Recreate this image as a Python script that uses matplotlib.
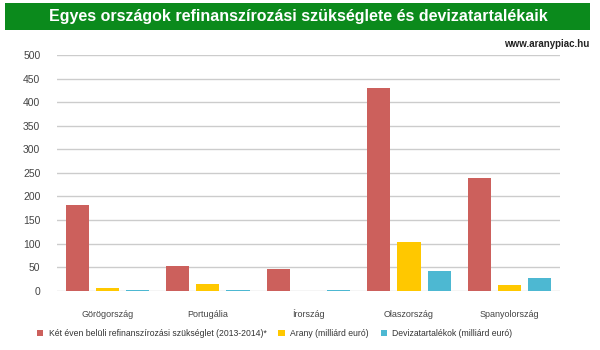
import numpy as np
import matplotlib
matplotlib.use('Agg')
import matplotlib.pyplot as plt
from matplotlib.patches import Rectangle

plt.rcParams['font.family'] = ['Liberation Sans', 'DejaVu Sans']

countries = ['Görögország', 'Portugália', 'Írország', 'Olaszország', 'Spanyolország']
refin = [181, 52, 46, 431, 239]
arany = [5, 15, 0, 104, 12]
deviza = [1, 1, 1, 42, 28]
series = [
    ('Két éven belüli refinanszírozási szükséglet (2013-2014)*', refin, '#cc605c'),
    ('Arany (milliárd euró)', arany, '#ffc800'),
    ('Devizatartalékok (milliárd euró)', deviza, '#4db8d2'),
]
yticks = [0, 50, 100, 150, 200, 250, 300, 350, 400, 450, 500]

fig = plt.figure(figsize=(6, 3.5), dpi=100)
ax = fig.add_axes([0.095, 0.169, 0.838, 0.674])

# title banner
fig.patches.append(Rectangle((0.008, 0.915), 0.975, 0.077, transform=fig.transFigure,
                             facecolor='#0b8a1c', edgecolor='none'))
fig.text(0.497, 0.953, 'Egyes országok refinanszírozási szükséglete és devizatartalékaik',
         color='white', fontsize=11.5, fontweight='bold', ha='center', va='center')
fig.text(0.983, 0.873, 'www.aranypiac.hu', fontsize=7, fontweight='bold',
         ha='right', va='center', color='#222222')

x = np.arange(len(countries))
w = 0.23
for i, (name, vals, col) in enumerate(series):
    ax.bar(x + (i - 1) * 0.30, vals, width=w, color=col, label=name, zorder=3)

ax.set_xlim(-0.5, 4.5)
ax.set_ylim(0, 500)
ax.set_yticks(yticks)
ax.set_xticks(x)
ax.set_xticklabels(countries)
ax.grid(axis='y', color='#cccccc', linewidth=1, zorder=0)
for s in ax.spines.values():
    s.set_visible(False)
ax.tick_params(axis='y', length=0, labelsize=7.5, colors='#444444', pad=12)
ax.tick_params(axis='x', length=0, labelsize=6.5, colors='#444444', pad=19)
for lab in ax.get_yticklabels():
    lab.set_horizontalalignment('right')
for lab in ax.get_xticklabels():
    lab.set_verticalalignment('baseline')

ax.legend(loc='upper center', bbox_to_anchor=(0.433, -0.13), ncol=3, frameon=False,
          fontsize=6.2, handlelength=0.75, handleheight=0.75, handletextpad=0.6,
          columnspacing=1.4, labelcolor='#333333')

fig.savefig('out.png', dpi=100)
